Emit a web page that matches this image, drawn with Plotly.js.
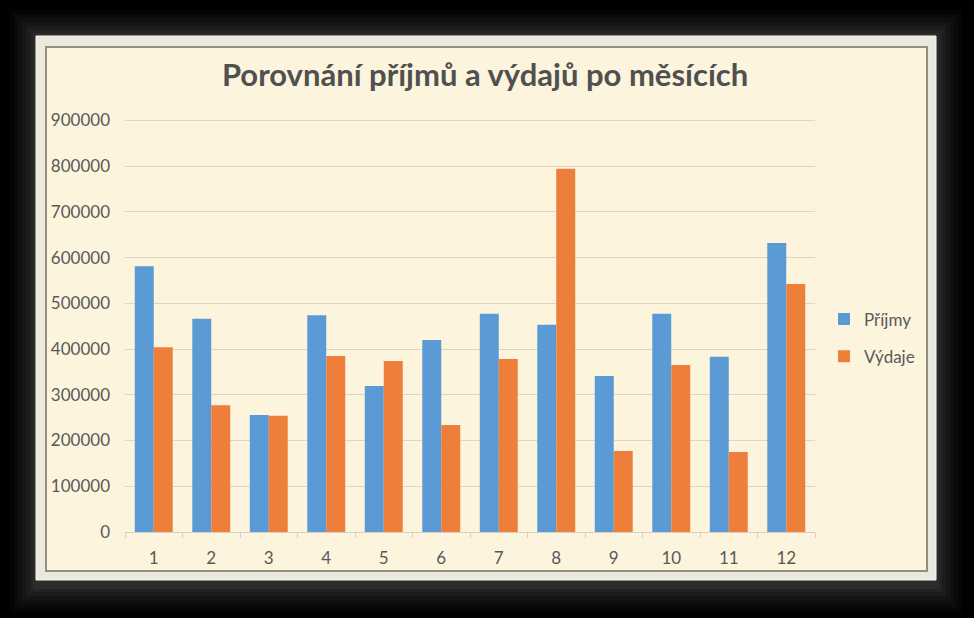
<!DOCTYPE html>
<html>
<head>
<meta charset="utf-8">
<script src="https://cdn.plot.ly/plotly-3.0.1.min.js"></script>
<style>html,body{margin:0;padding:0;background:#000;}#chart{width:974px;height:618px;}</style>
</head>
<body>
<div id="chart"></div>
<script>
const months = ["1","2","3","4","5","6","7","8","9","10","11","12"];
const prijmy = [581000, 466000, 256000, 474000, 319000, 420000, 477000, 453000, 341000, 477000, 383000, 632000];
const vydaje = [404000, 277000, 254000, 385000, 374000, 234000, 378000, 794000, 177000, 365000, 175000, 542000];
const yTicks = [0,100000,200000,300000,400000,500000,600000,700000,800000,900000];
const seriesNames = ["Příjmy", "Výdaje"];
const chartTitle = "Porovnání příjmů a výdajů po měsících";

const W = 974, H = 618;
const M = {l:125, r:159, t:119, b:86};
const PW = W - M.l - M.r, PH = H - M.t - M.b;
const px = x => (x - M.l) / PW;
const py = y => (H - M.b - y) / PH;
function rect(x0,y0,x1,y1,fill,line,lw,layer){
  return {type:'rect', xref:'paper', yref:'paper', x0:px(x0), x1:px(x1), y0:py(y1), y1:py(y0),
          fillcolor:fill, line:{color:line||'rgba(0,0,0,0)', width:lw||0}, layer:layer||'below'};
}
const shapes = [];
// soft glow around the frame
[[26,0.06],[22,0.07],[18,0.08],[14,0.10],[10,0.12],[6,0.15],[3,0.2]].forEach(([d,o])=>{
  shapes.push(rect(36-d,36-d,936+d,580+d+6,'rgba(80,80,80,'+o+')'));
});
shapes.push(rect(36,36,936,580,'#ebe8de','#f8f6f0',1));
shapes.push(rect(46,47,927,571,'#fcf4dc','#958e7d',2));

const font = "Lato, 'Open Sans', sans-serif";
const data = [
  {type:'bar', name:seriesNames[0], x:months, y:prijmy, marker:{color:'#5b9bd5'}, legendgroup:'a'},
  {type:'bar', name:seriesNames[1], x:months, y:vydaje, marker:{color:'#ee7f3a'}, legendgroup:'b'}
];
const layout = {
  width:W, height:H, margin:M,
  paper_bgcolor:'#000000', plot_bgcolor:'rgba(0,0,0,0)',
  shapes: shapes,
  barmode:'group', bargap:0.34, bargroupgap:0,
  title:{text:chartTitle, x:0.498, xanchor:'center', y:1-75/H, yanchor:'middle', yref:'container',
         font:{family:font, size:31, color:'#505050', weight:'bold'}},
  xaxis:{type:'category', showgrid:false, showline:true, linecolor:'#d4cfc2', linewidth:1,
         ticks:'outside', tickson:'boundaries', ticklen:5, tickcolor:'#d4cfc2',
         ticklabelstandoff:11, tickfont:{family:font, size:17, color:'#595959'}, fixedrange:true},
  yaxis:{range:[0,903000], tickvals:yTicks,
         showline:false, zeroline:false,
         gridcolor:'#ddd6c4', gridwidth:1, ticks:'', ticklabelstandoff:14,
         tickformat:'d', tickfont:{family:font, size:17, color:'#595959'}, fixedrange:true},
  showlegend:true,
  legend:{x:px(824), xanchor:'left', y:py(338), yanchor:'middle', bgcolor:'rgba(0,0,0,0)',
          traceorder:'grouped', tracegroupgap:12, font:{family:font, size:17, color:'#595959'}},
  hovermode:false
};
Plotly.newPlot('chart', data, layout, {staticPlot:true});
</script>
</body>
</html>
